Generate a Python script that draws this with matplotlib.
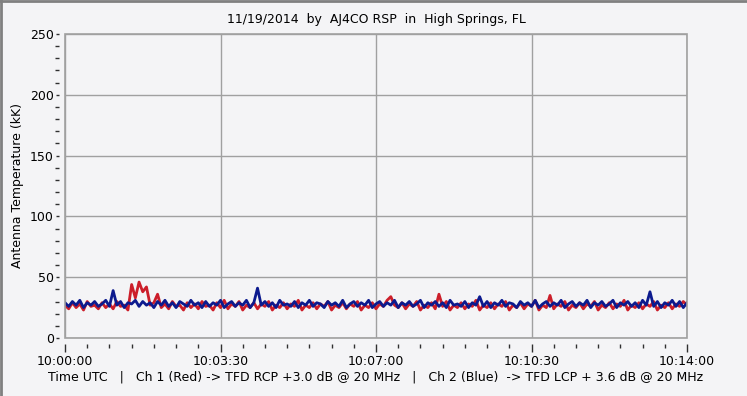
import numpy as np
import matplotlib.pyplot as plt
from matplotlib.patches import Rectangle
from matplotlib.ticker import MultipleLocator, FixedLocator

# Sample spacing (seconds) of the hand-read traces, starting 10:00:00 UTC
SAMPLE_STEP = 5

# Ch 1 (Red) antenna temperature, kK
ch1_red = [
    27, 24, 29, 25, 28, 23, 30, 26, 27, 24, 29, 25, 28,
    24, 30, 26, 27, 23, 44, 33, 46, 38, 42, 27, 29, 36,
    25, 28, 24, 30, 26, 27, 23, 29, 25, 28, 24, 30, 26,
    27, 23, 29, 25, 31, 24, 28, 26, 30, 23, 27, 25, 29,
    24, 28, 26, 30, 23, 27, 25, 29, 24, 28, 26, 31, 23,
    27, 25, 29, 24, 28, 26, 30, 23, 27, 25, 29, 24, 28,
    26, 30, 23, 27, 25, 29, 24, 28, 26, 31, 34, 27, 25,
    29, 24, 28, 26, 30, 23, 27, 25, 29, 24, 36, 26, 30,
    23, 27, 25, 29, 24, 28, 26, 31, 23, 27, 25, 29, 24,
    28, 26, 30, 23, 27, 25, 29, 24, 28, 26, 31, 23, 27,
    25, 35, 24, 28, 26, 30, 23, 27, 25, 29, 24, 28, 26,
    30, 23, 27, 25, 29, 24, 28, 26, 31, 23, 27, 25, 29,
    24, 28, 26, 30, 23, 27, 25, 29, 24, 28, 26, 30, 27,
]

# Ch 2 (Blue) antenna temperature, kK
ch2_blue = [
    29, 26, 30, 27, 31, 25, 29, 27, 30, 26, 28, 31, 26,
    39, 27, 30, 25, 29, 28, 31, 26, 30, 27, 29, 25, 30,
    27, 31, 26, 29, 25, 30, 28, 26, 31, 27, 29, 25, 30,
    26, 29, 27, 31, 25, 28, 30, 26, 29, 27, 31, 25, 29,
    41, 27, 30, 26, 29, 25, 31, 27, 28, 26, 30, 25, 29,
    27, 31, 26, 29, 28, 25, 30, 27, 29, 26, 31, 25, 28,
    30, 26, 29, 27, 31, 25, 28, 30, 26, 29, 27, 31, 25,
    29, 27, 30, 26, 28, 31, 25, 29, 27, 30, 26, 29, 25,
    31, 27, 28, 26, 30, 25, 29, 27, 34, 26, 30, 25, 29,
    27, 31, 26, 29, 28, 25, 30, 27, 29, 26, 31, 25, 28,
    30, 26, 29, 27, 31, 25, 28, 30, 26, 29, 27, 31, 25,
    29, 27, 30, 26, 28, 31, 25, 29, 27, 30, 26, 29, 25,
    31, 27, 38, 26, 30, 25, 29, 27, 31, 26, 30, 25, 29,
]

tick_seconds = [0, 210, 420, 630, 840]
tick_labels = ['10:00:00', '10:03:30', '10:07:00', '10:10:30', '10:14:00']

BG = '#F4F4F6'
FRAME = '#A0A0A0'

plt.rcParams['font.family'] = ['DejaVu Sans']

fig = plt.figure(figsize=(7.47, 3.96), dpi=100, facecolor=BG)
ax = fig.add_axes([65 / 747, 58 / 396, 622 / 747, 304 / 396])
ax.set_facecolor(BG)

t = np.arange(len(ch1_red)) * SAMPLE_STEP
ax.plot(t, ch1_red, color='#CC1E2A', lw=2.0)
ax.plot(t, ch2_blue, color='#0C1A8E', lw=2.0)

ax.set_xlim(0, 840)
ax.set_ylim(0, 250)

ax.xaxis.set_major_locator(FixedLocator(tick_seconds))
ax.set_xticklabels(tick_labels)
ax.xaxis.set_minor_locator(MultipleLocator(30))
ax.yaxis.set_major_locator(MultipleLocator(50))
ax.yaxis.set_minor_locator(MultipleLocator(10))

ax.grid(True, which='major', color=FRAME, lw=1.0)

# ticks sit a little away from the plot frame
for side in ['top', 'right']:
    ax.spines[side].set_visible(False)
for side in ['bottom', 'left']:
    ax.spines[side].set_position(('outward', 4))
    ax.spines[side].set_visible(False)
ax.add_patch(Rectangle((0, 0), 1, 1, transform=ax.transAxes, fill=False,
                       edgecolor=FRAME, lw=1.2, clip_on=False, zorder=5))

ax.tick_params(axis='x', which='major', length=6, width=1, color='#303030',
               labelsize=9, pad=2)
ax.tick_params(axis='x', which='minor', length=3, width=1, color='#303030')
ax.tick_params(axis='y', which='major', length=2, width=1, color='#303030',
               labelsize=9, pad=2)
ax.tick_params(axis='y', which='minor', length=3, width=1, color='#303030')

ax.set_title('11/19/2014  by  AJ4CO RSP  in  High Springs, FL', fontsize=9, pad=8)
ax.set_ylabel('Antenna Temperature (kK)', fontsize=9, labelpad=4)
ax.set_xlabel('Time UTC   |   Ch 1 (Red) -> TFD RCP +3.0 dB @ 20 MHz   |   '
              'Ch 2 (Blue)  -> TFD LCP + 3.6 dB @ 20 MHz', fontsize=9, labelpad=2)

# window-style border around the image
fig.add_artist(plt.Line2D([0.001, 0.001], [0, 1], transform=fig.transFigure, color='#808080', lw=2))
fig.add_artist(plt.Line2D([0, 1], [0.998, 0.998], transform=fig.transFigure, color='#808080', lw=2))

fig.savefig('out.png', dpi=100, facecolor=BG)
